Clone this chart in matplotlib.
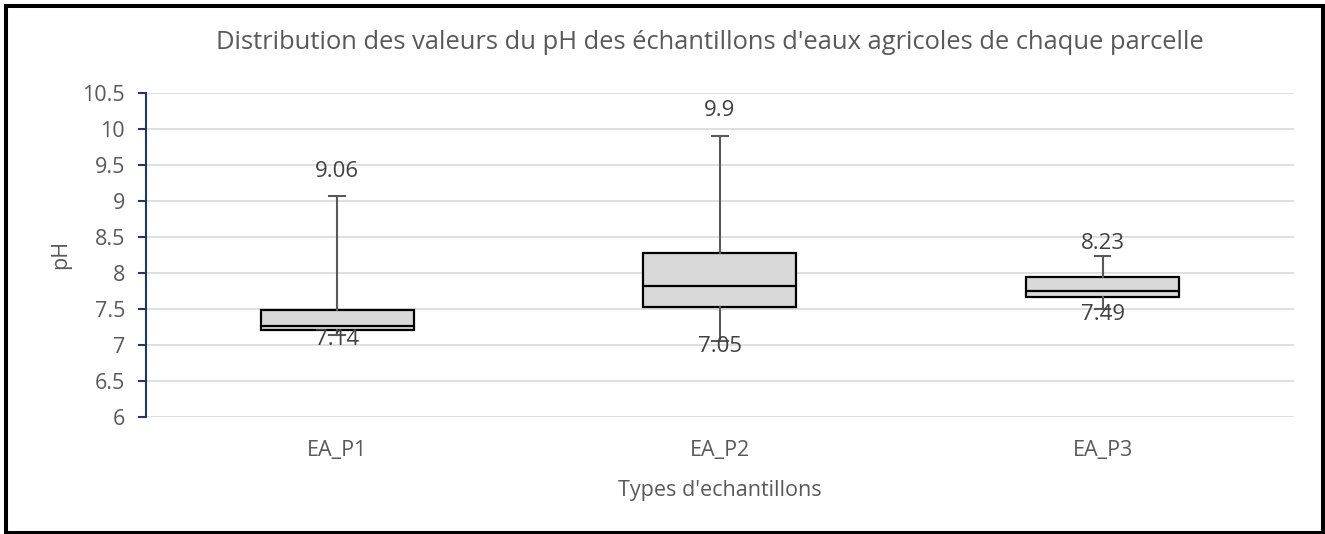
import numpy as np
import matplotlib.pyplot as plt
from matplotlib.patches import Rectangle

plt.rcParams['font.family'] = ['Open Sans', 'DejaVu Sans']

# data
categories = ['EA_P1', 'EA_P2', 'EA_P3']
ph_min = [7.14, 7.05, 7.49]
ph_q1 = [7.20, 7.52, 7.66]
ph_med = [7.26, 7.82, 7.74]
ph_q3 = [7.48, 8.28, 7.94]
ph_max = [9.06, 9.90, 8.23]
max_labels = ['9.06', '9.9', '8.23']
min_labels = ['7.14', '7.05', '7.49']

grey_txt = '#595959'

fig = plt.figure(figsize=(13.25, 5.34), dpi=100)
ax = fig.add_axes([0.11, 0.2197, 0.8667, 0.6067])

stats = []
for i, c in enumerate(categories):
    stats.append(dict(label=c, whislo=ph_min[i], q1=ph_q1[i], med=ph_med[i],
                      q3=ph_q3[i], whishi=ph_max[i], fliers=[]))

pos = np.arange(1, len(categories) + 1)
ax.bxp(stats, positions=pos, widths=0.4, patch_artist=True, showfliers=False,
       boxprops=dict(facecolor='#d9d9d9', edgecolor='black', linewidth=1.6),
       medianprops=dict(color='black', linewidth=1.6),
       whiskerprops=dict(color=grey_txt, linewidth=1.5),
       capprops=dict(color=grey_txt, linewidth=1.5),
       capwidths=0.04, zorder=3)

# value labels
up_off = [18, 18, 9]
for i, p in enumerate(pos):
    ax.annotate(max_labels[i], (p, ph_max[i]), textcoords='offset points',
                xytext=(0, up_off[i]), ha='center', va='center',
                fontsize=16, color='#404040')
    ax.annotate(min_labels[i], (p, ph_min[i]), textcoords='offset points',
                xytext=(0, 4), ha='center', va='top',
                fontsize=16, color='#404040')

ax.set_xlim(0.5, 3.5)
ax.set_ylim(6, 10.5)
ax.set_yticks(np.arange(6, 10.51, 0.5))
ax.set_yticklabels(['6', '6.5', '7', '7.5', '8', '8.5', '9', '9.5', '10', '10.5'])
ax.set_xticks(pos)
ax.set_xticklabels(categories)
ax.grid(axis='y', color='#d9d9d9', linewidth=1.2, zorder=0)
ax.set_axisbelow(True)

for s in ['top', 'right', 'bottom']:
    ax.spines[s].set_visible(False)
ax.spines['left'].set_color('#1f3864')
ax.spines['left'].set_linewidth(1.5)
ax.tick_params(axis='y', colors='#1f3864', length=6, width=1.5, labelsize=15.5,
               labelcolor=grey_txt, pad=9)
ax.tick_params(axis='x', length=0, labelsize=15.5, labelcolor=grey_txt, pad=16.5)

ax.set_ylabel('pH', fontsize=15.5, color=grey_txt, labelpad=8)
ax.set_xlabel("Types d'echantillons", fontsize=15.5, color=grey_txt, labelpad=14)
fig.text(0.536, 0.921, "Distribution des valeurs du pH des échantillons d'eaux agricoles de chaque parcelle",
         ha='center', va='center', fontsize=18.4, color=grey_txt)

# outer frame
fig.patches.append(Rectangle((6 / 1325, 1.5 / 534), 1317 / 1325, 527 / 534,
                             transform=fig.transFigure, fill=False,
                             edgecolor='black', linewidth=2.9))

plt.savefig('out.png', dpi=100)
